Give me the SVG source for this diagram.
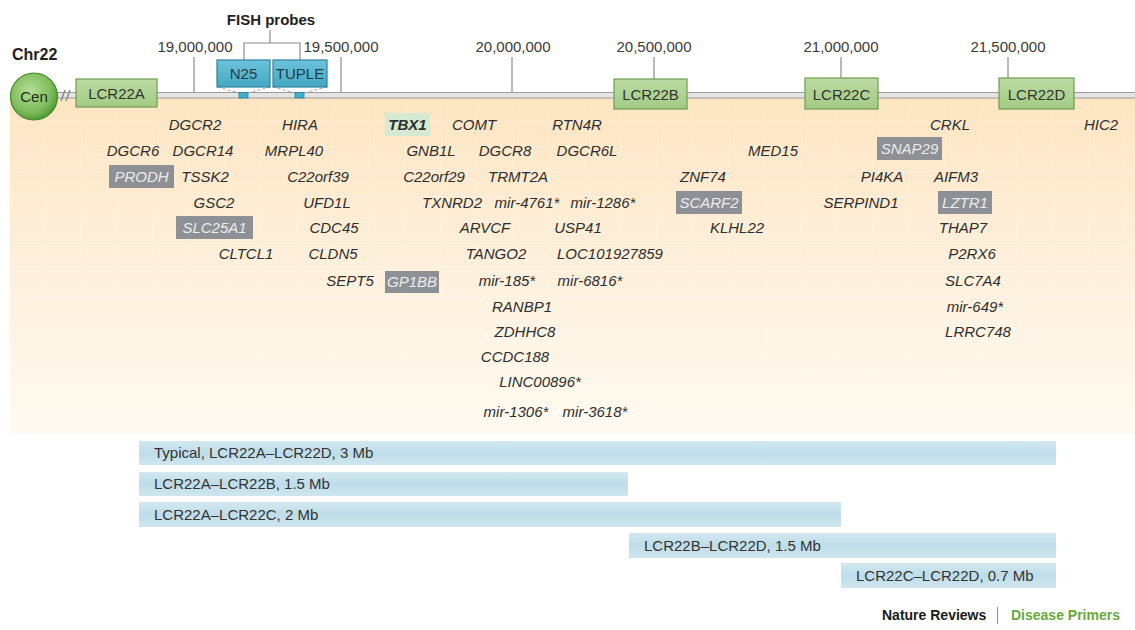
<svg xmlns="http://www.w3.org/2000/svg" width="1135" height="630" viewBox="0 0 1135 630">
<defs>
<linearGradient id="bg" x1="0" y1="0" x2="0" y2="1">
<stop offset="0" stop-color="#fde5c2"/>
<stop offset="0.5" stop-color="#fef0dc"/>
<stop offset="1" stop-color="#fffaf1"/>
</linearGradient>
<pattern id="grid" width="36" height="25" patternUnits="userSpaceOnUse" x="10" y="97">
<path d="M36 0V25M0 25H36" fill="none" stroke="#ffffff" stroke-opacity="0.35" stroke-width="1"/>
</pattern>
<radialGradient id="cen" cx="0.42" cy="0.38" r="0.65">
<stop offset="0" stop-color="#b6dd98"/>
<stop offset="0.7" stop-color="#7dbb5a"/>
<stop offset="1" stop-color="#4f9634"/>
</radialGradient>
<linearGradient id="lcr" x1="0" y1="0" x2="0" y2="1">
<stop offset="0" stop-color="#bcdba2"/>
<stop offset="1" stop-color="#a2cb84"/>
</linearGradient>
<linearGradient id="fish" x1="0" y1="0" x2="0" y2="1">
<stop offset="0" stop-color="#6cc3da"/>
<stop offset="1" stop-color="#45a7c3"/>
</linearGradient>
<linearGradient id="bar" x1="0" y1="0" x2="0" y2="1">
<stop offset="0" stop-color="#d3e8f0"/>
<stop offset="0.5" stop-color="#bedde9"/>
<stop offset="1" stop-color="#cfe6ef"/>
</linearGradient>
</defs>
<style>
.tick{font-family:"Liberation Sans",Arial,sans-serif;font-size:15px;fill:#3a3a3a;text-anchor:middle}
.g{font-family:"Liberation Sans",Arial,sans-serif;font-size:15px;font-style:italic;fill:#2e2e2e;text-anchor:middle}
.gb{font-family:"Liberation Sans",Arial,sans-serif;font-size:15px;font-style:italic;fill:#ececec;text-anchor:middle}
.gbox{fill:#8d9095}
.lbox{fill:url(#lcr);stroke:#6f9c52;stroke-width:1.2}
.ltxt{font-family:"Liberation Sans",Arial,sans-serif;font-size:15px;fill:#333;text-anchor:middle}
.fbox{fill:url(#fish);stroke:#2c829b;stroke-width:1.2}
.ftxt{font-family:"Liberation Sans",Arial,sans-serif;font-size:15px;fill:#1d3d48;text-anchor:middle}
.bar{fill:url(#bar)}
.btxt{font-family:"Liberation Sans",Arial,sans-serif;font-size:15px;fill:#333}
.tl{stroke:#8a8a8a;stroke-width:1.2;fill:none}
.dash{stroke:#a8a8a8;stroke-width:1;stroke-dasharray:3 2;fill:none}
</style>

<rect x="10" y="97" width="1125" height="336" fill="url(#bg)"/>
<rect x="10" y="97" width="1125" height="336" fill="url(#grid)"/>

<text x="12" y="60" font-family="Liberation Sans,Arial,sans-serif" font-size="16" font-weight="bold" fill="#222">Chr22</text>

<g id="chromosome">
<rect x="57" y="92.5" width="1080" height="5.5" fill="#e4e4e4" stroke="#9c9c9c" stroke-width="1"/>
<line x1="61" y1="101" x2="65" y2="90" stroke="#8a8a8a" stroke-width="1.5"/>
<line x1="66" y1="101" x2="70" y2="90" stroke="#8a8a8a" stroke-width="1.5"/>
</g>

<g id="connectors">
<line class="tl" x1="194" y1="57" x2="194" y2="92"/>
<line class="tl" x1="341" y1="57" x2="341" y2="92"/>
<line class="tl" x1="512" y1="57" x2="512" y2="92"/>
<line class="tl" x1="654" y1="57" x2="654" y2="79"/>
<line class="tl" x1="841" y1="57" x2="841" y2="78"/>
<line class="tl" x1="1008" y1="57" x2="1008" y2="78"/>
<path class="tl" d="M270 30V43M244 60V43H300V60"/>
<path class="dash" d="M218 87L239 93M270 87L248 93M273 87L295 93M327 87L304 93"/>
</g>

<g id="ticks">
<text class="tick" x="195" y="52">19,000,000</text>
<text class="tick" x="341" y="52">19,500,000</text>
<text class="tick" x="513" y="52">20,000,000</text>
<text class="tick" x="654" y="52">20,500,000</text>
<text class="tick" x="841" y="52">21,000,000</text>
<text class="tick" x="1008" y="52">21,500,000</text>
</g>

<g id="fish-probes">
<text x="271" y="25" font-family="Liberation Sans,Arial,sans-serif" font-size="15" font-weight="bold" fill="#222" text-anchor="middle">FISH probes</text>
</g>
<g id="n25">
<rect class="fbox" x="217" y="60" width="53" height="27"/>
<text class="ftxt" x="243.5" y="79">N25</text>
<rect x="239" y="92.5" width="9" height="5.5" fill="#3fb0cc" stroke="#2c829b" stroke-width="0.8"/>
</g>
<g id="tuple">
<rect class="fbox" x="273" y="60" width="54" height="27"/>
<text class="ftxt" x="300" y="79">TUPLE</text>
<rect x="295" y="92.5" width="9" height="5.5" fill="#3fb0cc" stroke="#2c829b" stroke-width="0.8"/>
</g>

<g id="cen">
<circle cx="34" cy="96.5" r="23.5" fill="url(#cen)" stroke="#3f8a2a" stroke-width="1.2"/>
<text x="34" y="102" font-family="Liberation Sans,Arial,sans-serif" font-size="15" fill="#1e2e18" text-anchor="middle">Cen</text>
</g>
<g id="lcr22a"><rect class="lbox" x="76" y="79" width="81" height="28"/><text class="ltxt" x="116.5" y="99">LCR22A</text></g>
<g id="lcr22b"><rect class="lbox" x="614" y="79" width="73" height="30"/><text class="ltxt" x="650.5" y="100">LCR22B</text></g>
<g id="lcr22c"><rect class="lbox" x="805" y="78" width="73" height="31"/><text class="ltxt" x="841.5" y="99.5">LCR22C</text></g>
<g id="lcr22d"><rect class="lbox" x="999" y="78" width="75" height="31"/><text class="ltxt" x="1036.5" y="99.5">LCR22D</text></g>

<g id="genes">
<text class="g" x="195" y="130">DGCR2</text>
<text class="g" x="300" y="130">HIRA</text>
<rect x="385" y="113" width="45" height="23" fill="#d4ead1"/>
<text class="g" x="407.5" y="130" font-weight="bold" fill="#1e1e1e">TBX1</text>
<text class="g" x="474" y="130">COMT</text>
<text class="g" x="577" y="130">RTN4R</text>
<text class="g" x="950" y="130">CRKL</text>
<text class="g" x="1101" y="130">HIC2</text>

<text class="g" x="133" y="156">DGCR6</text>
<text class="g" x="203" y="156">DGCR14</text>
<text class="g" x="294" y="156">MRPL40</text>
<text class="g" x="431" y="156">GNB1L</text>
<text class="g" x="505" y="156">DGCR8</text>
<text class="g" x="587" y="156">DGCR6L</text>
<text class="g" x="773" y="156">MED15</text>
<rect class="gbox" x="877" y="137" width="65" height="23"/>
<text class="gb" x="909.5" y="154">SNAP29</text>

<rect class="gbox" x="109" y="165" width="65" height="23"/>
<text class="gb" x="141.5" y="182">PRODH</text>
<text class="g" x="205" y="182">TSSK2</text>
<text class="g" x="318" y="182">C22orf39</text>
<text class="g" x="434" y="182">C22orf29</text>
<text class="g" x="518" y="182">TRMT2A</text>
<text class="g" x="703" y="182">ZNF74</text>
<text class="g" x="882" y="182">PI4KA</text>
<text class="g" x="956" y="182">AIFM3</text>

<text class="g" x="214" y="208">GSC2</text>
<text class="g" x="327" y="208">UFD1L</text>
<text class="g" x="452" y="208">TXNRD2</text>
<text class="g" x="527" y="208">mir-4761*</text>
<text class="g" x="603" y="208">mir-1286*</text>
<rect class="gbox" x="676" y="191" width="66" height="23"/>
<text class="gb" x="709" y="208">SCARF2</text>
<text class="g" x="861" y="208">SERPIND1</text>
<rect class="gbox" x="938" y="191" width="54" height="23"/>
<text class="gb" x="965" y="208">LZTR1</text>

<rect class="gbox" x="176" y="216" width="77" height="23"/>
<text class="gb" x="214.5" y="233">SLC25A1</text>
<text class="g" x="334" y="233">CDC45</text>
<text class="g" x="485" y="233">ARVCF</text>
<text class="g" x="578" y="233">USP41</text>
<text class="g" x="737" y="233">KLHL22</text>
<text class="g" x="963" y="233">THAP7</text>

<text class="g" x="246" y="259">CLTCL1</text>
<text class="g" x="333" y="259">CLDN5</text>
<text class="g" x="496" y="259">TANGO2</text>
<text class="g" x="610" y="259">LOC101927859</text>
<text class="g" x="972" y="259">P2RX6</text>

<text class="g" x="350" y="286">SEPT5</text>
<rect class="gbox" x="385" y="271" width="54" height="22"/>
<text class="gb" x="412" y="287">GP1BB</text>
<text class="g" x="507" y="286">mir-185*</text>
<text class="g" x="590" y="286">mir-6816*</text>
<text class="g" x="973" y="286">SLC7A4</text>

<text class="g" x="522" y="312">RANBP1</text>
<text class="g" x="975" y="312">mir-649*</text>
<text class="g" x="525" y="337">ZDHHC8</text>
<text class="g" x="978" y="337">LRRC748</text>
<text class="g" x="515" y="362">CCDC188</text>
<text class="g" x="540" y="387">LINC00896*</text>
<text class="g" x="516" y="417">mir-1306*</text>
<text class="g" x="595" y="417">mir-3618*</text>
</g>

<g id="del-typical"><rect class="bar" x="139" y="441" width="917" height="24"/><text class="btxt" x="154" y="458">Typical, LCR22A–LCR22D, 3 Mb</text></g>
<g id="del-ab"><rect class="bar" x="139" y="472" width="489" height="24"/><text class="btxt" x="154" y="489">LCR22A–LCR22B, 1.5 Mb</text></g>
<g id="del-ac"><rect class="bar" x="139" y="502" width="702" height="25"/><text class="btxt" x="154" y="520">LCR22A–LCR22C, 2 Mb</text></g>
<g id="del-bd"><rect class="bar" x="629" y="533" width="427" height="25"/><text class="btxt" x="644" y="551">LCR22B–LCR22D, 1.5 Mb</text></g>
<g id="del-cd"><rect class="bar" x="841" y="563" width="215" height="25"/><text class="btxt" x="856" y="581">LCR22C–LCR22D, 0.7 Mb</text></g>

<g id="footer" font-family="Liberation Sans,Arial,sans-serif" font-size="14" font-weight="bold">
<text x="882" y="620" fill="#1a1a1a">Nature Reviews</text>
<line x1="997.5" y1="607" x2="997.5" y2="624" stroke="#999" stroke-width="1.2"/>
<text x="1011" y="620" fill="#6aa83c">Disease Primers</text>
</g>
</svg>
